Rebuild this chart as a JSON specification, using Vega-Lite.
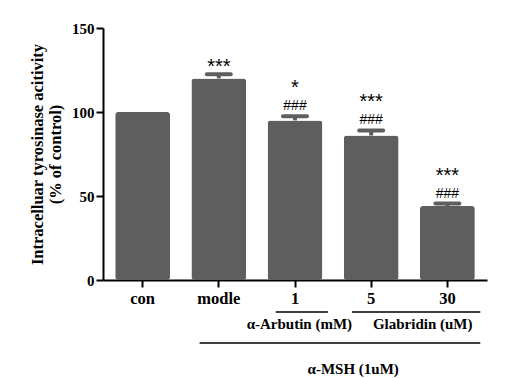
{
  "$schema": "https://vega.github.io/schema/vega-lite/v6.json",
  "width": 384,
  "height": 252,
  "autosize": "none",
  "padding": {"left": 103, "top": 28, "right": 20, "bottom": 98},
  "background": "white",
  "config": {
    "view": {"stroke": null},
    "axis": {"grid": false, "domainColor": "black", "tickColor": "black", "domainWidth": 2, "tickWidth": 2, "labelColor": "black", "titleColor": "black"}
  },
  "resolve": {"scale": {"y": "independent"}},
  "layer": [
    {
      "data": {"values": [
        {"cond": "con", "mean": 100, "hi": null, "stars": "", "hash": ""},
        {"cond": "modle", "mean": 120, "hi": 122.5, "stars": "***", "hash": ""},
        {"cond": "1", "mean": 95, "hi": 97.5, "stars": "*", "hash": "###"},
        {"cond": "5", "mean": 86, "hi": 89, "stars": "***", "hash": "###"},
        {"cond": "30", "mean": 44, "hi": 45.5, "stars": "***", "hash": "###"}
      ]},
      "encoding": {
        "x": {
          "field": "cond", "type": "nominal",
          "scale": {"domain": ["con", "modle", "1", "5", "30"], "paddingInner": 0.28, "paddingOuter": 0.16},
          "axis": {"title": null, "labelAngle": 0, "labelFont": "Liberation Serif", "labelFontWeight": "bold", "labelFontSize": 16.5, "tickSize": 7, "labelPadding": 3}
        }
      },
      "layer": [
        {
          "mark": {"type": "bar", "color": "#5e5e5e", "cornerRadius": 3},
          "encoding": {
            "y": {
              "field": "mean", "type": "quantitative",
              "scale": {"domain": [0, 150], "nice": false},
              "axis": {
                "values": [0, 50, 100, 150],
                "title": ["Intracelluar tyrosinase acitivity", "(%  of control)"],
                "titleFont": "Liberation Serif", "titleFontWeight": "bold", "titleFontSize": 16.5, "titleLineHeight": 18, "titlePadding": 8,
                "labelFont": "Liberation Serif", "labelFontWeight": "bold", "labelFontSize": 15, "tickSize": 7, "labelPadding": 2
              }
            }
          }
        },
        {
          "mark": {"type": "rule", "color": "#5e5e5e", "strokeWidth": 4},
          "encoding": {"y": {"field": "mean", "type": "quantitative"}, "y2": {"field": "hi"}}
        },
        {
          "mark": {"type": "tick", "color": "#5e5e5e", "size": 28, "thickness": 4, "cornerRadius": 2, "opacity": 1},
          "encoding": {"y": {"field": "hi", "type": "quantitative"}}
        },
        {
          "mark": {"type": "text", "font": "Liberation Sans", "fontSize": 14, "baseline": "bottom", "dy": -3, "color": "black"},
          "encoding": {"y": {"field": "hi", "type": "quantitative"}, "text": {"field": "hash"}}
        },
        {
          "transform": [{"filter": "datum.hash !== ''"}],
          "mark": {"type": "text", "font": "Liberation Sans", "fontSize": 20, "baseline": "bottom", "dy": -18, "color": "black"},
          "encoding": {"y": {"field": "hi", "type": "quantitative"}, "text": {"field": "stars"}}
        },
        {
          "transform": [{"filter": "datum.hash === ''"}],
          "mark": {"type": "text", "font": "Liberation Sans", "fontSize": 20, "baseline": "bottom", "dy": 3, "color": "black"},
          "encoding": {"y": {"field": "hi", "type": "quantitative"}, "text": {"field": "stars"}}
        }
      ]
    },
    {
      "data": {"values": [
        {"group": "α-Arbutin (mM)", "from": "1", "to": "1", "level": 1},
        {"group": "Glabridin (uM)", "from": "5", "to": "30", "level": 1},
        {"group": "α-MSH (1uM)", "from": "modle", "to": "30", "level": 2}
      ]},
      "encoding": {
        "y": {"field": "level", "type": "quantitative", "scale": {"domain": [1, 2], "range": [284, 315]}, "axis": null}
      },
      "layer": [
        {
          "mark": {"type": "rule", "color": "black", "strokeWidth": 1.5},
          "encoding": {
            "x": {"field": "from", "type": "nominal", "bandPosition": 0.15, "scale": {"domain": ["con", "modle", "1", "5", "30"], "paddingInner": 0.28, "paddingOuter": 0.16}, "axis": {"title": null, "labelAngle": 0, "labelFont": "Liberation Serif", "labelFontWeight": "bold", "labelFontSize": 16.5, "tickSize": 7, "labelPadding": 3}},
            "x2": {"field": "to", "bandPosition": 1.1}
          }
        },
        {
          "transform": [{"filter": "datum.group === 'α-Arbutin (mM)'"}],
          "mark": {"type": "text", "font": "Liberation Serif", "fontWeight": "bold", "fontSize": 15, "dy": 12, "color": "black"},
          "encoding": {
            "x": {"field": "from", "type": "nominal", "bandPosition": 0.58},
            "text": {"field": "group"}
          }
        },
        {
          "transform": [{"filter": "datum.group === 'Glabridin (uM)'"}],
          "mark": {"type": "text", "font": "Liberation Serif", "fontWeight": "bold", "fontSize": 15, "dy": 12, "color": "black"},
          "encoding": {
            "x": {"field": "to", "type": "nominal", "bandPosition": 0.05},
            "text": {"field": "group"}
          }
        },
        {
          "transform": [{"filter": "datum.group === 'α-MSH (1uM)'"}],
          "mark": {"type": "text", "font": "Liberation Serif", "fontWeight": "bold", "fontSize": 15, "dy": 26, "color": "black"},
          "encoding": {
            "x": {"field": "from", "type": "nominal", "bandPosition": 2.95},
            "text": {"field": "group"}
          }
        }
      ]
    }
  ]
}
